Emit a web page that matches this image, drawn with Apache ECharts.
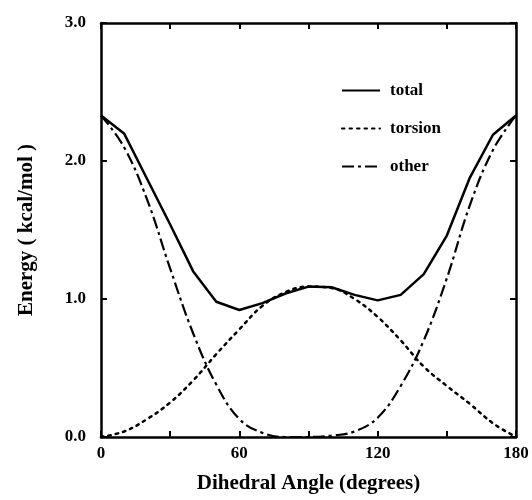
<!DOCTYPE html>
<html>
<head>
<meta charset="utf-8">
<script src="https://cdn.jsdelivr.net/npm/echarts@6/dist/echarts.min.js"></script>
<style>
  html, body { margin: 0; padding: 0; background: #fff; }
  #chart { width: 532px; height: 500px; }
</style>
</head>
<body>
<div id="chart"></div>
<script>
// dihedral angle (degrees), sampled every 10
const angles = [0, 10, 20, 30, 40, 50, 60, 70, 80, 90, 100, 110, 120, 130, 140, 150, 160, 170, 180]
// energies (kcal/mol)
const total = [2.33, 2.20, 1.87, 1.54, 1.20, 0.98, 0.92, 0.97, 1.04, 1.09, 1.085, 1.03, 0.99, 1.03, 1.18, 1.46, 1.88, 2.19, 2.33]
const torsion = [0.0, 0.04, 0.13, 0.25, 0.41, 0.60, 0.78, 0.95, 1.05, 1.09, 1.08, 1.00, 0.87, 0.70, 0.51, 0.37, 0.24, 0.10, 0.0]
const other = [2.33, 2.10, 1.72, 1.22, 0.75, 0.38, 0.13, 0.03, 0.0, 0.0, 0.01, 0.04, 0.14, 0.37, 0.70, 1.15, 1.68, 2.08, 2.33]
const xLabels = [0, 60, 120, 180]
const yLabels = ['0.0', '1.0', '2.0', '3.0']

const font = '"Liberation Serif", "DejaVu Serif", serif'
const pairs = (ys) => angles.map((a, i) => [a, ys[i]])

const chart = echarts.init(document.getElementById('chart'))

const hidden = { show: false }
const frameLine = { show: true, onZero: false, lineStyle: { color: '#000', width: 2.5 } }
const innerTick = { show: true, inside: true, length: 6, lineStyle: { color: '#000', width: 2 } }
const tickFont = { fontFamily: font, fontSize: 17, fontWeight: 'bold', color: '#000' }
const titleFont = { fontFamily: font, fontSize: 21, fontWeight: 'bold', color: '#000' }
const noMarker = { color: 'transparent', borderWidth: 0 }

chart.setOption({
  animation: false,
  backgroundColor: '#fff',
  grid: { left: 101, right: 16, top: 23, bottom: 63 },
  legend: {
    orient: 'vertical',
    left: 336,
    top: 77,
    itemWidth: 38,
    itemHeight: 14,
    itemGap: 21,
    itemStyle: noMarker,
    textStyle: { fontFamily: font, fontSize: 17, fontWeight: 'bold', color: '#000', padding: [0, 0, 0, 5] },
    data: ['total', 'torsion', 'other'],
  },
  xAxis: [
    {
      type: 'value',
      min: 0,
      max: 180,
      interval: 30,
      position: 'bottom',
      name: 'Dihedral Angle (degrees)',
      nameLocation: 'middle',
      nameGap: 36,
      nameTextStyle: titleFont,
      axisLine: frameLine,
      axisTick: innerTick,
      splitLine: hidden,
      axisLabel: {
        margin: 8,
        ...tickFont,
        formatter: (v) => (xLabels.includes(v) ? String(v) : ''),
      },
    },
    {
      type: 'value',
      min: 0,
      max: 180,
      interval: 30,
      position: 'top',
      axisLine: frameLine,
      axisTick: innerTick,
      splitLine: hidden,
      axisLabel: hidden,
    },
  ],
  yAxis: [
    {
      type: 'value',
      min: 0,
      max: 3,
      interval: 1,
      position: 'left',
      name: 'Energy ( kcal/mol )',
      nameLocation: 'middle',
      nameGap: 64,
      nameTextStyle: titleFont,
      axisLine: frameLine,
      axisTick: innerTick,
      splitLine: hidden,
      axisLabel: {
        margin: 15,
        ...tickFont,
        formatter: (v) => yLabels[Math.round(v)],
      },
    },
    {
      type: 'value',
      min: 0,
      max: 3,
      interval: 1,
      position: 'right',
      axisLine: frameLine,
      axisTick: innerTick,
      splitLine: hidden,
      axisLabel: hidden,
    },
  ],
  series: [
    {
      name: 'total',
      type: 'line',
      data: pairs(total),
      symbol: 'none',
      lineStyle: { color: '#000', width: 2.5 },
      itemStyle: { color: '#000' },
    },
    {
      name: 'torsion',
      type: 'line',
      data: pairs(torsion),
      smooth: 0.4,
      symbol: 'none',
      lineStyle: { color: '#000', width: 2.5, type: [2.5, 5], cap: 'round' },
      itemStyle: { color: '#000' },
    },
    {
      name: 'other',
      type: 'line',
      data: pairs(other),
      smooth: 0.4,
      symbol: 'none',
      lineStyle: { color: '#000', width: 2.2, type: [12, 4, 3, 4] },
      itemStyle: { color: '#000' },
    },
  ],
})
</script>
</body>
</html>
